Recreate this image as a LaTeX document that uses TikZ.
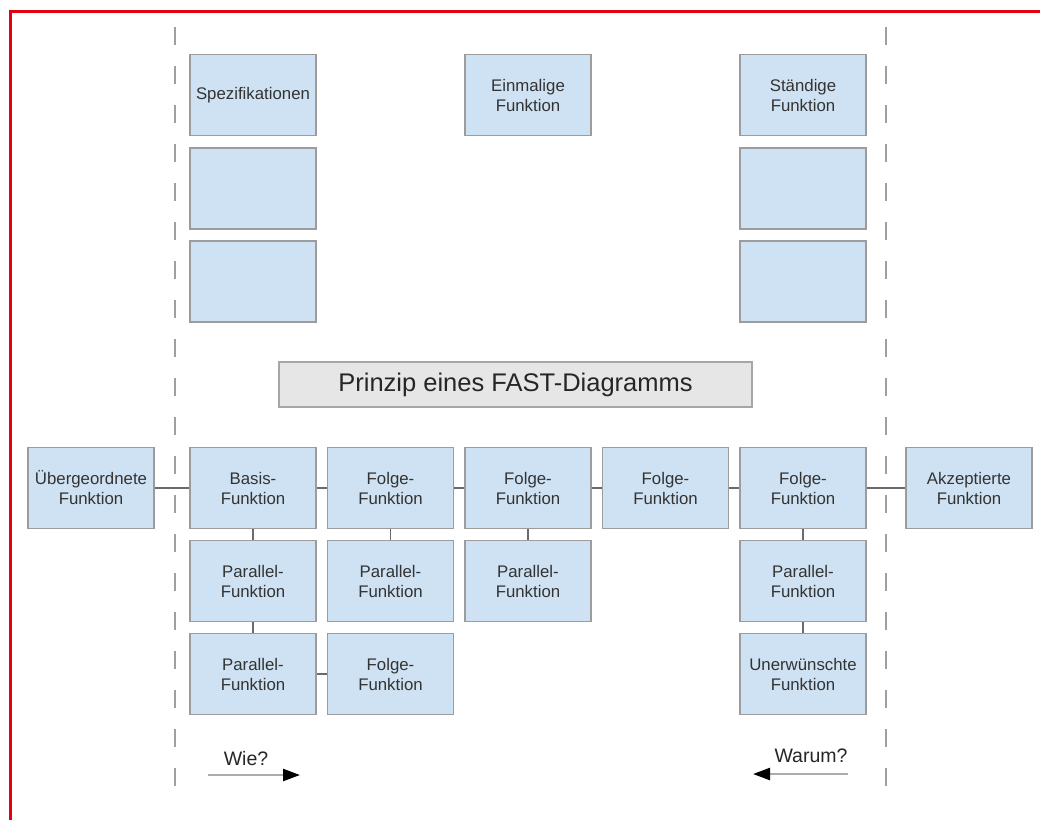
\documentclass[tikz,border=0pt]{standalone}
\usepackage{fontspec}
\setmainfont{Liberation Sans}
\usetikzlibrary{arrows.meta}
\definecolor{boxfill}{HTML}{CFE2F3}
\definecolor{boxline}{HTML}{9C9C9C}
\definecolor{txt}{HTML}{333333}
\definecolor{conn}{HTML}{6A6A6A}
\definecolor{frame}{HTML}{E3000F}
\definecolor{titlefill}{HTML}{E6E6E6}
\begin{document}
\begin{tikzpicture}[x=1pt,y=-1pt,
  fbox/.style={draw=boxline, line width=1.3pt, fill=boxfill, minimum width=126pt, minimum height=81pt,
    inner sep=0pt, align=center, text=txt, font=\fontsize{16.8}{20}\selectfont},
  link/.style={draw=conn, line width=1.3pt},
  guide/.style={draw=gray!75, line width=2.2pt, dash pattern=on 18pt off 21pt},
  dirarrow/.style={draw=gray!65, line width=2.4pt, -{Triangle[length=17pt,width=12pt,black]}},
  dirtext/.style={text=black!85, font=\fontsize{19.5}{22}\selectfont},
  ]
\useasboundingbox (0,0) rectangle (1040,820);
\fill[white] (0,0) rectangle (1040,820);
% frame
\draw[frame, line width=3pt] (10,820) -- (10,11) -- (1040,11);
% guides
\coordinate (gl1) at (175,27);
\coordinate (gl2) at (175,790);
\coordinate (gr1) at (886,27);
\coordinate (gr2) at (886,790);
\draw[guide] (gl1) -- (gl2);
\draw[guide] (gr1) -- (gr2);
% top boxes
\node[fbox] (spec) at (253,95) {\raisebox{-2pt}{Spezifikationen}};
\node[fbox] (spec2) at (253,188.5) {};
\node[fbox] (spec3) at (253,281.5) {};
\node[fbox] (einm) at (528,95) {Einmalige\\Funktion};
\node[fbox] (staend) at (803,95) {Ständige\\Funktion};
\node[fbox] (st2) at (803,188.5) {};
\node[fbox] (st3) at (803,281.5) {};
% title
\node[draw=gray!70, line width=1.3pt, fill=titlefill, minimum width=473pt, minimum height=45pt, inner sep=0pt,
  text=black!85, font=\fontsize{25.5}{28}\selectfont] (title) at (515.5,384.5) {Prinzip eines FAST-Diagramms};
% main row
\node[fbox] (ueber) at (91,488) {Übergeordnete\\Funktion};
\node[fbox] (basis) at (253,488) {Basis-\\Funktion};
\node[fbox] (f2) at (390.5,488) {Folge-\\Funktion};
\node[fbox] (f3) at (528,488) {Folge-\\Funktion};
\node[fbox] (f4) at (665.5,488) {Folge-\\Funktion};
\node[fbox] (f5) at (803,488) {Folge-\\Funktion};
\node[fbox] (akz) at (969,488) {Akzeptierte\\Funktion};
% second row
\node[fbox] (p1) at (253,581) {Parallel-\\Funktion};
\node[fbox] (p2) at (390.5,581) {Parallel-\\Funktion};
\node[fbox] (p3) at (528,581) {Parallel-\\Funktion};
\node[fbox] (p5) at (803,581) {Parallel-\\Funktion};
% third row
\node[fbox] (q1) at (253,674) {Parallel-\\Funktion};
\node[fbox] (q2) at (390.5,674) {Folge-\\Funktion};
\node[fbox] (q5) at (803,674) {Unerwünschte\\Funktion};
% connectors
\draw[link] (ueber) -- (basis);
\draw[link] (basis) -- (f2);
\draw[link] (f2) -- (f3);
\draw[link] (f3) -- (f4);
\draw[link] (f4) -- (f5);
\draw[link] (f5) -- (akz);
\draw[link] (basis) -- (p1);
\draw[link] (p1) -- (q1);
\draw[link] (q1) -- (q2);
\draw[link] (f2) -- (p2);
\draw[link] (f3) -- (p3);
\draw[link] (f5) -- (p5);
\draw[link] (p5) -- (q5);
% direction arrows
\node[dirtext] (wie) at (246,759) {Wie?};
\coordinate (wa) at (208,775);
\coordinate (wb) at (300,775);
\draw[dirarrow] (wa) -- (wb);
\node[dirtext] (warum) at (811,756) {Warum?};
\coordinate (ra) at (848,774);
\coordinate (rb) at (753,774);
\draw[dirarrow] (ra) -- (rb);
\end{tikzpicture}
\end{document}
